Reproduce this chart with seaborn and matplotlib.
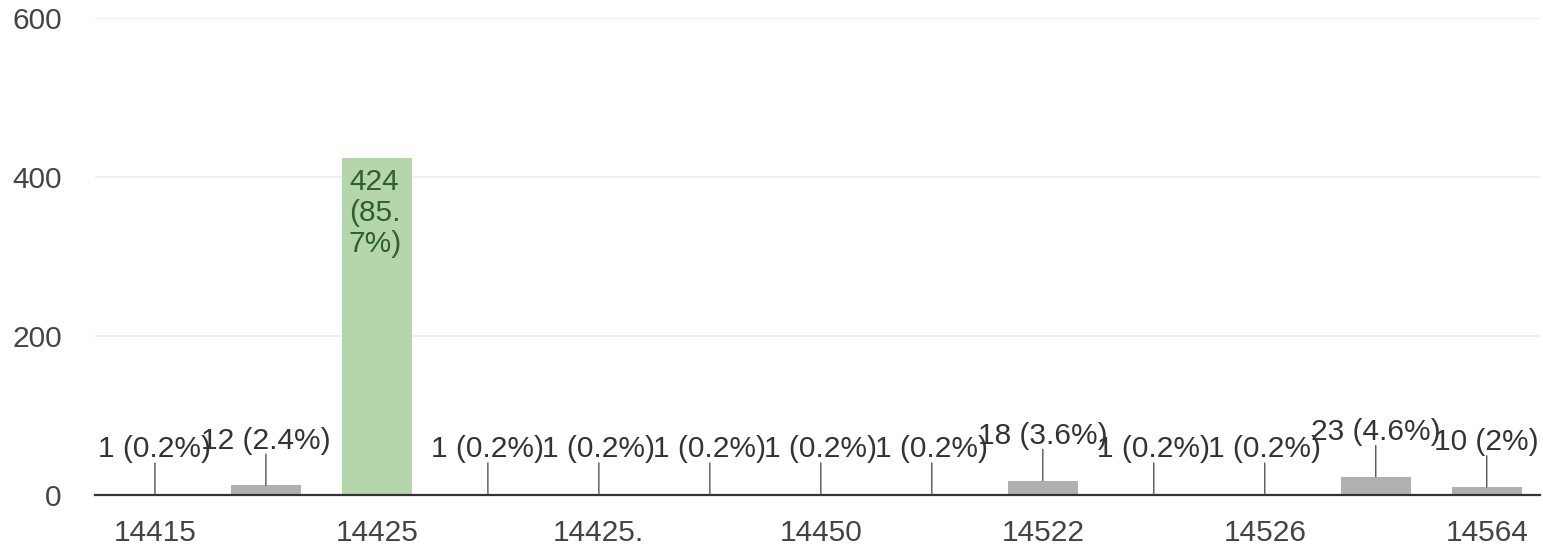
import matplotlib
matplotlib.use("Agg")
import matplotlib.pyplot as plt
import seaborn as sns
import pandas as pd
import numpy as np

# ---- data ----
tick_labels = ["14415", "", "14425", "", "14425.", "", "14450", "", "14522", "", "14526", "", "14564"]
counts = [1, 12, 424, 1, 1, 1, 1, 1, 18, 1, 1, 23, 10]
percents = ["0.2%", "2.4%", "85.7%", "0.2%", "0.2%", "0.2%", "0.2%", "0.2%", "3.6%", "0.2%", "0.2%", "4.6%", "2%"]
y_ticks = [0, 200, 400, 600]

sns.set_theme(style="white")
plt.rcParams['font.family'] = ['Liberation Sans', 'DejaVu Sans']

W, H, DPI = 1543, 547, 100
fig = plt.figure(figsize=(W / DPI, H / DPI), dpi=DPI)
ax = fig.add_axes([95 / W, 52 / H, (1540 - 95) / W, (495 - 18) / H])

slots = list(range(len(counts)))
df = pd.DataFrame({"slot": slots, "count": counts})
top = max(counts)
colors = {s: ("#b5d6ab" if c == top else "#b0b0b0") for s, c in zip(slots, counts)}
sns.barplot(data=df, x="slot", y="count", hue="slot", palette=colors, order=slots,
            width=0.63, legend=False, ax=ax, saturation=1, linewidth=0)

FS = 21.5
# annotations
for s, c, p in zip(slots, counts, percents):
    if c == top:
        ax.annotate(f"{c}\n({p[:3]}\n{p[3:]})", xy=(s - 0.315, c), xytext=(5, -7),
                    textcoords="offset points", ha="left", va="top", fontsize=FS,
                    color="#2f5f2f", linespacing=1.15)
    else:
        ax.annotate("", xy=(s, c), xytext=(0, 22.5), textcoords="offset points",
                    arrowprops=dict(arrowstyle="-", color="#555555", lw=1.0,
                                    shrinkA=0, shrinkB=0))
        ax.annotate(f"{c} ({p})", xy=(s, c), xytext=(0, 26.5), textcoords="offset points",
                    ha="center", va="baseline", fontsize=FS, color="#333333")

ax.set_ylim(0, 600)
ax.set_xlim(-0.54, 12.48)
ax.set_yticks(y_ticks)
ax.set_yticklabels([str(v) for v in y_ticks])
ax.set_xticks(slots)
ax.set_xticklabels(tick_labels)
ax.tick_params(axis="both", length=0, labelsize=FS, colors="#444444")
ax.tick_params(axis="y", pad=24)
ax.tick_params(axis="x", pad=17.5)
for v in y_ticks[1:]:
    ax.axhline(v, color="#ececec", lw=1.2, zorder=0)
for sp in ["top", "right", "left"]:
    ax.spines[sp].set_visible(False)
ax.spines["bottom"].set_color("#333333")
ax.spines["bottom"].set_linewidth(1.6)
ax.set_xlabel("")
ax.set_ylabel("")
ax.set_facecolor("white")
fig.savefig("out.png", dpi=DPI, facecolor="white")
